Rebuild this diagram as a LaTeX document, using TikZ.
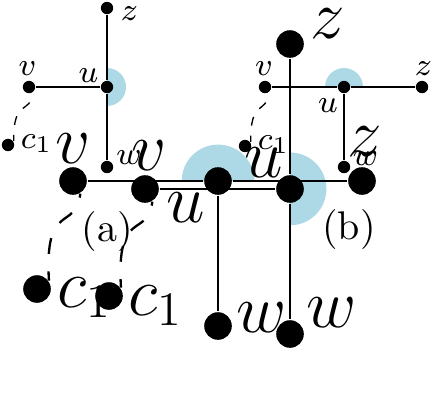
\documentclass[tikz,border=0pt]{standalone}
\usetikzlibrary{backgrounds}
\definecolor{bluefill}{RGB}{173,216,230}
\tikzset{
  sdot/.style={circle, fill=black, inner sep=0pt, minimum size=3.1pt},
  ldot/.style={circle, fill=black, inner sep=0pt, minimum size=6.9pt},
  slab/.style={inner sep=0pt, anchor=base, font=\fontsize{8.3}{10}\selectfont},
  llab/.style={inner sep=0pt, anchor=base, font=\fontsize{17.3}{20}\selectfont},
  sline/.style={line width=0.33pt},
  lline/.style={line width=0.58pt},
  sdash/.style={sline, dash pattern=on 2.25pt off 2.5pt, dash phase=2.25pt},
  ldash/.style={lline, dash pattern=on 4pt off 4.375pt, dash phase=3pt},
  captext/.style={inner sep=0pt, font=\fontsize{10}{12}\selectfont}
}
\begin{document}
\begin{tikzpicture}[x=0.25pt, y=0.25pt]
\useasboundingbox (0,0) rectangle (436,-409);

% ---------- small diagram (a) ----------
\node[sdot] (au) at (107,-87) {};
\node[sdot] (av) at (29,-87) {};
\node[sdot] (az) at (107,-8) {};
\node[sdot] (aw) at (107,-167) {};
\node[sdot] (ac) at (8,-145) {};
% ---------- small diagram (b) ----------
\node[sdot] (bu) at (344,-87) {};
\node[sdot] (bv) at (265,-87) {};
\node[sdot] (bz) at (422,-87) {};
\node[sdot] (bw) at (344,-167) {};
\node[sdot] (bc) at (245,-146) {};
% ---------- large diagram, (b) layout ----------
\node[ldot] (Bu) at (218,-181) {};
\node[ldot] (Bv) at (73,-181) {};
\node[ldot] (Bz) at (362,-181) {};
\node[ldot] (Bw) at (218,-326) {};
\node[ldot] (Bc) at (37,-289) {};
% ---------- large diagram, (a) layout ----------
\node[ldot] (Au) at (290,-189) {};
\node[ldot] (Av) at (145,-189) {};
\node[ldot] (Az) at (290,-44) {};
\node[ldot] (Aw) at (290,-334) {};
\node[ldot] (Ac) at (109,-296) {};

% angle markers
\begin{scope}[on background layer]
  \fill[bluefill] (au.center) -- ++(0,19) arc[start angle=90, end angle=-90, radius=4.75pt] -- cycle;
  \fill[bluefill] (bu.center) -- ++(19,0) arc[start angle=0, end angle=180, radius=4.75pt] -- cycle;
  \fill[bluefill] (Bu.center) -- ++(36.5,0) arc[start angle=0, end angle=180, radius=9.1pt] -- cycle;
  \fill[bluefill] (Au.center) -- ++(0,36.5) arc[start angle=90, end angle=-90, radius=9.1pt] -- cycle;
\end{scope}

% edges
\draw[sline] (az) -- (au) -- (aw);
\draw[sline] (av) -- (au);
\draw[sline] (bv) -- (bu) -- (bz);
\draw[sline] (bu) -- (bw);
\draw[lline] (Bv) -- (Bu) -- (Bz);
\draw[lline] (Bu) -- (Bw);
\draw[lline] (Az) -- (Au) -- (Aw);
\draw[lline] (Av) -- (Au);

% dashed curves
\draw[sdash] (av.-60) .. controls (30.6,-115) and (13,-97.5) .. (ac.35);
\draw[sdash] (bv.-60) .. controls (266.6,-115) and (250,-98) .. (bc.35);
\draw[ldash] (Bv.-60) .. controls (76,-232) and (44,-200) .. (Bc.35);
\draw[ldash] (Av.-60) .. controls (148,-239) and (116,-207) .. (Ac.35);

% small labels
\node[slab] (alu) at (88.5,-82) {$u$};
\node[slab] (alv) at (27.5,-75) {$v$};
\node[slab] (alz) at (129.5,-20) {$z$};
\node[slab] (alw) at (129,-164) {$w$};
\node[slab, anchor=base west] (alc) at (20,-148) {$c_1$};
\node[slab] (blu) at (328,-112) {$u$};
\node[slab] (blv) at (264,-75) {$v$};
\node[slab] (blz) at (423.5,-75) {$z$};
\node[slab] (blw) at (365.5,-165) {$w$};
\node[slab, anchor=base west] (blc) at (257,-149) {$c_1$};

% large labels
\node[llab] (Blv) at (73,-163) {$v$};
\node[llab] (Blu) at (186,-222) {$u$};
\node[llab] (Blz) at (365,-156) {$z$};
\node[llab] (Blw) at (262,-332) {$w$};
\node[llab, anchor=base west] (Blc) at (57,-307) {$c_1$};
\node[llab] (Alv) at (149,-170) {$v$};
\node[llab] (Alu) at (264,-177) {$u$};
\node[llab] (Alz) at (328,-38) {$z$};
\node[llab] (Alw) at (332,-327) {$w$};
\node[llab, anchor=base west] (Alc) at (128,-315) {$c_1$};

% captions
\node[captext] (capa) at (107,-231) {(a)};
\node[captext] (capb) at (349,-229) {(b)};
\end{tikzpicture}
\end{document}
